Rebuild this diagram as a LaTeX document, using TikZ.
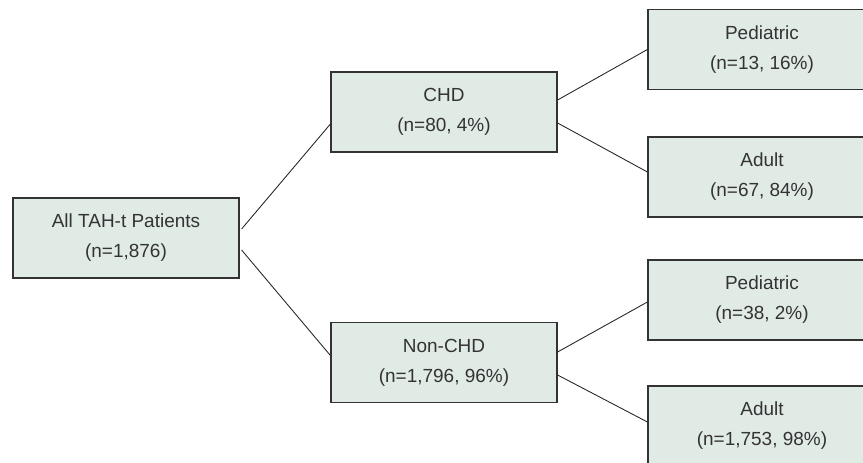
\documentclass[tikz,border=0pt]{standalone}
\usepackage{fontspec}
\setmainfont{Liberation Sans}
\definecolor{boxfill}{HTML}{E1EBE6}
\definecolor{boxline}{HTML}{333333}
\definecolor{txtgray}{HTML}{333333}

\begin{document}
\begin{tikzpicture}[x=0.02cm, y=-0.02cm,
    grp/.style={draw=boxline, line width=0.7pt, fill=boxfill, text=txtgray,
        minimum width=4.52cm, minimum height=1.6cm, align=center, inner sep=0pt,
        font=\fontsize{10.8}{17}\selectfont},
    sub/.style={grp, minimum width=4.56cm},
    link/.style={draw=black!85, line width=0.5pt}]
        % Frame of the picture
        \useasboundingbox (0,0) rectangle (863,463);
        \clip (0,0) rectangle (863,463);

        % All patients
        \node[grp] (all) at (126,238) {All TAH-t Patients\\(n=1,876)};

        % CHD split
        \node[grp] (chd) at (444,112) {CHD\\(n=80, 4\%)};
        \node[grp] (nonchd) at (444,362.5) {Non-CHD\\(n=1,796, 96\%)};

        % Age groups under CHD
        \node[sub] (chdped) at (762,49.5) {Pediatric\\(n=13, 16\%)};
        \node[sub] (chdadult) at (762,177) {Adult\\(n=67, 84\%)};

        % Age groups under Non-CHD
        \node[sub] (nonped) at (762,300) {Pediatric\\(n=38, 2\%)};
        \node[sub] (nonadult) at (762,426) {Adult\\(n=1,753, 98\%)};

        % Lines from all patients
        \draw[link] ([shift={(2,-9)}]all.east) -- ([shift={(0,12)}]chd.west);
        \draw[link] ([shift={(2,12)}]all.east) -- ([shift={(0,-7)}]nonchd.west);

        % Lines from CHD
        \draw[link] ([shift={(0,-12)}]chd.east) -- (chdped.west);
        \draw[link] ([shift={(0,11)}]chd.east) -- ([shift={(0,-5)}]chdadult.west);

        % Lines from Non-CHD
        \draw[link] ([shift={(0,-10.5)}]nonchd.east) -- ([shift={(0,2)}]nonped.west);
        \draw[link] ([shift={(0,12.5)}]nonchd.east) -- ([shift={(0,-4)}]nonadult.west);
      \end{tikzpicture}
\end{document}
